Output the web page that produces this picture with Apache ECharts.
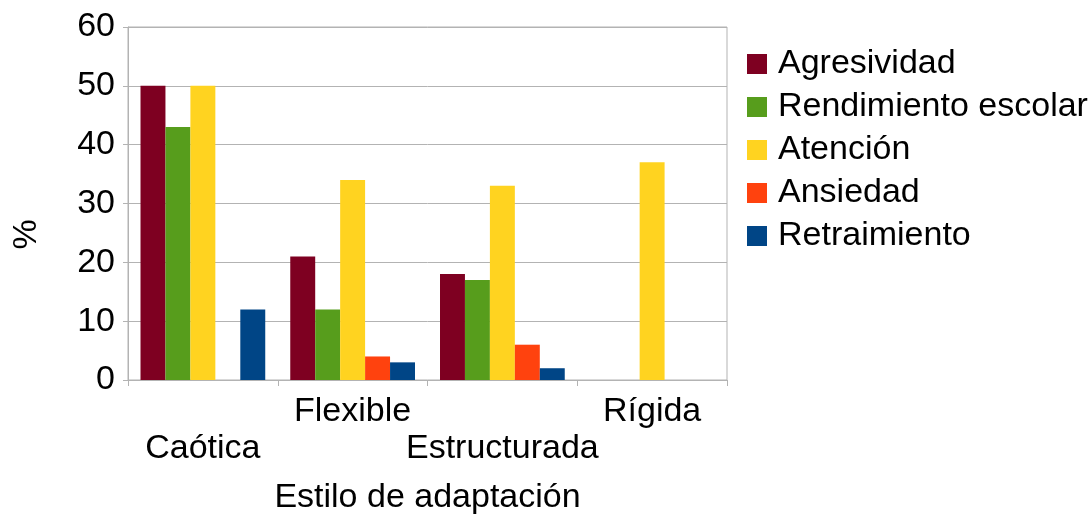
<!DOCTYPE html>
<html>
<head>
<meta charset="utf-8">
<script src="https://cdn.jsdelivr.net/npm/echarts@6/dist/echarts.min.js"></script>
<style>html,body{margin:0;padding:0;background:#fff}#c{width:1092px;height:516px}</style>
</head>
<body>
<div id="c"></div>
<script>
const categories = ['Caótica', 'Flexible', 'Estructurada', 'Rígida'];
const agresividad = [50, 21, 18, 0];
const rendimiento = [43, 12, 17, 0];
const atencion = [50, 34, 33, 37];
const ansiedad = [0, 4, 6, 0];
const retraimiento = [12, 3, 2, 0];
const seriesNames = ['Agresividad', 'Rendimiento escolar', 'Atención', 'Ansiedad', 'Retraimiento'];
const seriesData = [agresividad, rendimiento, atencion, ansiedad, retraimiento];
const colors = ['#7E0021', '#579D1C', '#FFD320', '#FF420E', '#004586'];
const yTicks = [0, 10, 20, 30, 40, 50, 60];

const FONT = '"Liberation Sans", Arial, sans-serif';
const FS = 34;
const chart = echarts.init(document.getElementById('c'), null, {renderer: 'canvas'});
chart.setOption({
  animation: false,
  color: colors,
  textStyle: {fontFamily: FONT},
  grid: {left: 128, right: 365, top: 27, bottom: 136, outerBoundsMode: 'none', containLabel: false,
         show: true, borderColor: '#b3b3b3', borderWidth: 1},
  legend: {
    orient: 'vertical', left: 747, top: 47, padding: 0, itemWidth: 20, itemHeight: 20, itemGap: 9,
    icon: 'rect',
    textStyle: {fontSize: FS, color: '#000', fontFamily: FONT, lineHeight: 34, padding: [0, 0, 0, 6]},
    data: seriesNames
  },
  xAxis: {
    type: 'category', data: categories,
    name: 'Estilo de adaptación', nameLocation: 'middle', nameGap: 101,
    nameTextStyle: {fontSize: FS, color: '#000', fontFamily: FONT},
    axisLine: {lineStyle: {color: '#b3b3b3'}},
    axisTick: {show: true, length: 6, lineStyle: {color: '#b3b3b3'}},
    axisLabel: {
      interval: 0, margin: 13, color: '#000', fontSize: FS, fontFamily: FONT, lineHeight: 37,
      formatter: (v, i) => i % 2 === 0 ? '\n' + v : v
    },
    splitLine: {show: false}
  },
  yAxis: {
    type: 'value', min: yTicks[0], max: yTicks[yTicks.length - 1], interval: 10,
    name: '%', nameLocation: 'middle', nameGap: 84,
    nameTextStyle: {fontSize: FS, color: '#000', fontFamily: FONT, padding: [0, 62, 0, 0]},
    axisLine: {show: true, lineStyle: {color: '#b3b3b3'}},
    axisTick: {show: true, length: 5, lineStyle: {color: '#b3b3b3'}},
    axisLabel: {margin: 13, color: '#000', fontSize: FS, fontFamily: FONT},
    splitLine: {lineStyle: {color: '#b3b3b3'}}
  },
  series: seriesNames.map((n, k) => ({
    name: n, type: 'bar', data: seriesData[k], barGap: '0%', barCategoryGap: '16.7%'
  }))
});
</script>
</body>
</html>
